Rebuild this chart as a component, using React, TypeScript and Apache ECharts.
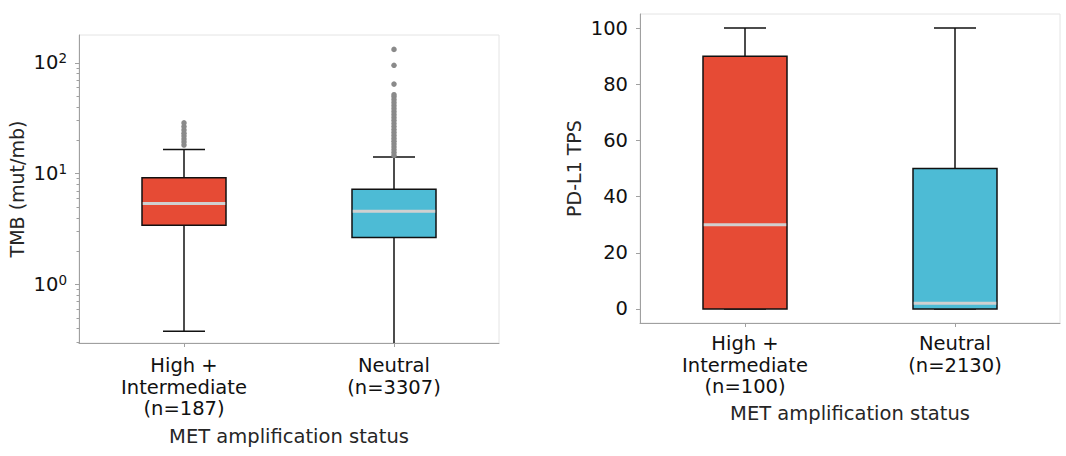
import React, { useEffect, useRef } from 'react';
import * as echarts from 'echarts';

// ---------- data ----------
const tmbCategories = ['High +\nIntermediate\n(n=187)', 'Neutral\n(n=3307)'];
const pdl1Categories = ['High +\nIntermediate\n(n=100)', 'Neutral\n(n=2130)'];
const groupColors = ['#E64B35', '#4DBBD5'];

// [lower whisker, Q1, median, Q3, upper whisker]
const tmbHighBox = [0.38, 3.43, 5.38, 9.17, 16.5];
const tmbNeutralBox = [0.1, 2.66, 4.59, 7.25, 14.1];
const tmbHighOutliers = [18.1, 19.3, 20.5, 21.8, 23.2, 24.8, 26.6, 28.7];
const tmbNeutralOutliers = [
  14.6, 15.5, 16.4, 17.4, 18.5, 19.6, 20.8, 22.1, 23.5, 25.0, 26.6,
  28.3, 30.1, 32.0, 34.0, 36.2, 38.5, 41.0, 43.6, 46.4, 49.3, 51.5,
  64.2, 94.8, 132,
];
const pdl1HighBox = [0, 0, 30, 90, 100];
const pdl1NeutralBox = [0, 0, 2, 50, 100];

const tmbMajorTicks = [1, 10, 100];
const tmbMinorTicks = [0.3, 0.4, 0.5, 0.6, 0.7, 0.8, 0.9, 2, 3, 4, 5, 6, 7, 8, 9, 20, 30, 40, 50, 60, 70, 80, 90];
const pdl1Ticks = [0, 20, 40, 60, 80, 100];

// ---------- styles ----------
const FONT = 'DejaVu Sans';
const TEXT = '#111';
const NAME = '#262626';
const SPINE = '#a0a0a0';
const FS = 19.5;

function boxRender(params: any, api: any) {
  const cat = api.value(0);
  const low = api.coord([cat, api.value(1)]);
  const q1 = api.coord([cat, api.value(2)]);
  const med = api.coord([cat, api.value(3)]);
  const q3 = api.coord([cat, api.value(4)]);
  const high = api.coord([cat, api.value(5)]);
  const band = Math.abs(api.coord([1, api.value(3)])[0] - api.coord([0, api.value(3)])[0]);
  const bw = band * 0.4;
  const cw = bw / 2;
  const cx = med[0];
  const stroke = { stroke: '#111', lineWidth: 1.5, fill: null };
  const color = groupColors[params.dataIndex % groupColors.length];
  return {
    type: 'group',
    children: [
      { type: 'line', shape: { x1: cx, y1: q1[1], x2: cx, y2: low[1] }, style: stroke },
      { type: 'line', shape: { x1: cx, y1: q3[1], x2: cx, y2: high[1] }, style: stroke },
      { type: 'line', shape: { x1: cx - cw / 2, y1: low[1], x2: cx + cw / 2, y2: low[1] }, style: stroke },
      { type: 'line', shape: { x1: cx - cw / 2, y1: high[1], x2: cx + cw / 2, y2: high[1] }, style: stroke },
      {
        type: 'rect',
        shape: { x: cx - bw / 2, y: q3[1], width: bw, height: q1[1] - q3[1] },
        style: { fill: color, stroke: '#111', lineWidth: 1.5 },
      },
      {
        type: 'line',
        shape: { x1: cx - bw / 2 + 0.75, y1: med[1], x2: cx + bw / 2 - 0.75, y2: med[1] },
        style: { stroke: '#d0d0d0', lineWidth: 3 },
      },
    ],
  };
}

function buildOption() {
  const catAxis = (gridIndex: number, data: string[], nameGap: number, margin: number) => ({
    type: 'category',
    gridIndex,
    data,
    name: 'MET amplification status',
    nameLocation: 'middle',
    nameGap,
    nameTextStyle: { fontFamily: FONT, fontSize: FS, color: NAME },
    axisLine: { show: true, onZero: false, lineStyle: { color: SPINE, width: 1 } },
    axisTick: { show: true, alignWithLabel: true, length: 4, lineStyle: { color: SPINE } },
    axisLabel: { fontFamily: FONT, fontSize: FS, color: TEXT, lineHeight: 21.5, margin, interval: 0 },
    splitLine: { show: false },
  });

  const logMin = 0.297;
  const logMax = 178;

  return {
    animation: false,
    grid: [
      { left: 79, top: 35, width: 420, height: 308, show: true, borderColor: '#e4e4e4', borderWidth: 1, outerBoundsMode: 'none' },
      { left: 640, top: 14, width: 420, height: 309, show: true, borderColor: '#e4e4e4', borderWidth: 1, outerBoundsMode: 'none' },
    ],
    xAxis: [catAxis(0, tmbCategories, 83, 12), catAxis(1, pdl1Categories, 80, 10)],
    yAxis: [
      {
        type: 'log',
        logBase: 10,
        gridIndex: 0,
        min: logMin,
        max: logMax,
        name: 'TMB (mut/mb)',
        nameLocation: 'middle',
        nameGap: 53,
        nameTextStyle: { fontFamily: FONT, fontSize: 19, color: NAME },
        axisLine: { show: true, lineStyle: { color: SPINE, width: 1 } },
        axisTick: { show: true, length: 4, customValues: tmbMajorTicks, lineStyle: { color: SPINE } },
        axisLabel: {
          customValues: tmbMajorTicks,
          margin: 12,
          formatter: (v: number) => `{b|10}{s|${Math.round(Math.log10(v))}}`,
          rich: {
            b: { fontFamily: FONT, fontSize: FS, color: TEXT, lineHeight: 24 },
            s: { fontFamily: FONT, fontSize: 13.5, color: TEXT, lineHeight: 13, verticalAlign: 'top' },
          },
        },
        splitLine: { show: false },
      },
      {
        type: 'log',
        logBase: 10,
        gridIndex: 0,
        min: logMin,
        max: logMax,
        position: 'left',
        axisLine: { show: false },
        axisTick: { show: true, length: 2.5, customValues: tmbMinorTicks, lineStyle: { color: SPINE } },
        axisLabel: { show: false },
        splitLine: { show: false },
      },
      {
        type: 'value',
        gridIndex: 1,
        min: -5,
        max: 105,
        name: 'PD-L1 TPS',
        nameLocation: 'middle',
        nameGap: 57,
        nameTextStyle: { fontFamily: FONT, fontSize: 19, color: NAME },
        axisLine: { show: true, lineStyle: { color: SPINE, width: 1 } },
        axisTick: { show: true, length: 4, customValues: pdl1Ticks, lineStyle: { color: SPINE } },
        axisLabel: { customValues: pdl1Ticks, margin: 12, fontFamily: FONT, fontSize: FS, color: TEXT },
        splitLine: { show: false },
      },
    ],
    series: [
      {
        type: 'custom',
        xAxisIndex: 0,
        yAxisIndex: 0,
        clip: true,
        renderItem: boxRender,
        encode: { x: 0, y: [1, 2, 3, 4, 5] },
        data: [
          [0, ...tmbHighBox],
          [1, ...tmbNeutralBox],
        ],
        z: 2,
      },
      {
        type: 'scatter',
        xAxisIndex: 0,
        yAxisIndex: 0,
        symbolSize: 5.5,
        itemStyle: { color: '#8a8a8a', opacity: 1 },
        data: [
          ...tmbHighOutliers.map((v) => [0, v]),
          ...tmbNeutralOutliers.map((v) => [1, v]),
        ],
        z: 3,
      },
      {
        type: 'custom',
        xAxisIndex: 1,
        yAxisIndex: 2,
        clip: true,
        renderItem: boxRender,
        encode: { x: 0, y: [1, 2, 3, 4, 5] },
        data: [
          [0, ...pdl1HighBox],
          [1, ...pdl1NeutralBox],
        ],
        z: 2,
      },
    ],
  };
}

export default function App() {
  const ref = useRef<HTMLDivElement>(null);
  useEffect(() => {
    if (!ref.current) return;
    const chart = echarts.init(ref.current, undefined, { renderer: 'svg' });
    chart.setOption(buildOption() as any);
    return () => chart.dispose();
  }, []);
  return (
    <div
      ref={ref}
      style={{ position: 'absolute', left: 0, top: 0, width: 1066, height: 456, background: '#fff' }}
    />
  );
}
